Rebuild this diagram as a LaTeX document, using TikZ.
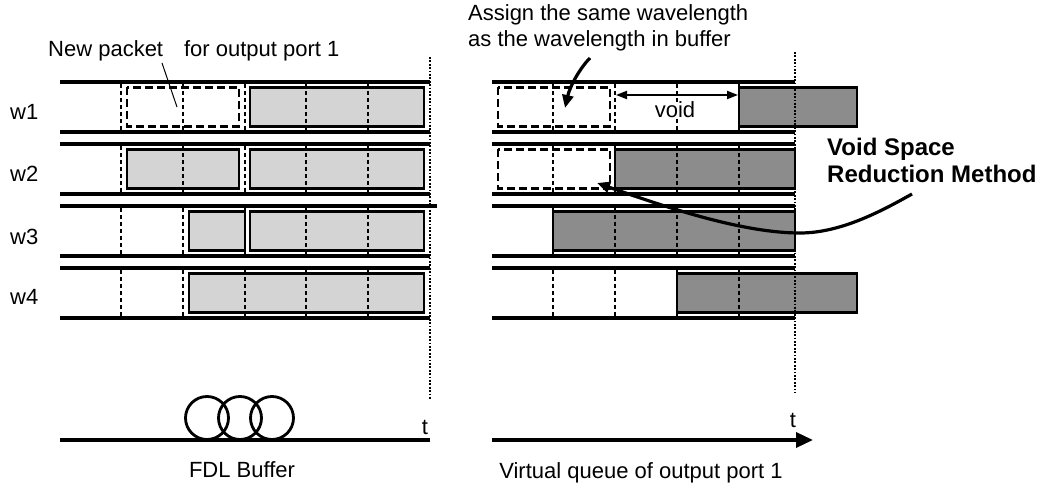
\documentclass[tikz,border=0pt]{standalone}
\usepackage{fontspec}
\setmainfont{Liberation Sans}
\usetikzlibrary{arrows.meta}
\def\packet[#1](#2)(#3:#4)% Syntax: [style] (lane top) (left x:right x)
{ \draw[#1] (#3,#2+5.5) rectangle (#4,#2+44.5); }
\tikzset{
	rail/.style={line width=3.4pt},
	slot/.style={line width=2pt, dash pattern=on 4pt off 3pt},
	tline/.style={line width=2pt, dash pattern=on 1.8pt off 1.6pt},
	fdlpkt/.style={draw, line width=2.8pt, fill=black!17},
	vqpkt/.style={draw, line width=2.8pt, fill=black!45},
	newpkt/.style={draw, line width=2.3pt, dash pattern=on 8pt off 4pt},
	lbl/.style={inner sep=0pt, font=\fontsize{22}{26}\selectfont},
	boldlbl/.style={inner sep=0pt, font=\fontsize{24}{28}\selectfont\bfseries},
	bend arrow/.style={line width=3.2pt, -{Triangle[length=13pt,width=11pt]}},
}
\begin{document}
\begin{tikzpicture}[x=1pt,y=-1pt]
	\useasboundingbox (0,0) rectangle (1052,486);
	% packets
	\packet[newpkt](82)(127:239)
	\packet[fdlpkt](82)(250:424)
	\packet[fdlpkt](144)(127:239)
	\packet[fdlpkt](144)(250:424)
	\packet[fdlpkt](206)(189:245)
	\packet[fdlpkt](206)(250:424)
	\packet[fdlpkt](268)(189:424)
	\packet[newpkt](82)(498:610)
	\packet[vqpkt](82)(739:857)
	\packet[newpkt](144)(498:610)
	\packet[vqpkt](144)(615:795)
	\packet[vqpkt](206)(553:795)
	\packet[vqpkt](268)(677:857)
	% wavelength lanes
	\foreach \lane/\top/\base in {1/82/120,2/144/182,3/206/245,4/268/305}{
		\draw[rail] (60,\top) -- (430,\top) (60,\top+50) -- (430,\top+50);
		\draw[rail] (492,\top) -- (795,\top) (492,\top+50) -- (795,\top+50);
		\foreach \x in {121,183,245,306,368,553,615,677,739}
			\draw[slot] (\x,\top+2) -- (\x,\top+48);
		\node[lbl, anchor=base west] (w\lane) at (10,\base) {w\lane};
	}
	\draw[rail] (430,206) -- (437,206);
	\draw[tline] (430,57) -- (430,400);
	\draw[tline] (795,52) -- (795,393);
	% labels
	\node[lbl, anchor=base west] (newlbl) at (48,57) {New packet\hspace{0.95em}for output port 1};
	\coordinate (newfrom) at (162,63);
	\coordinate (newto) at (177,107);
	\draw[line width=1pt] (newfrom) -- (newto);
	\node[lbl, anchor=base west] (assign1) at (468,21) {Assign the same wavelength};
	\node[lbl, anchor=base west] (assign2) at (468,47) {as the wavelength in buffer};
	\coordinate (asfrom) at (590,58);
	\coordinate (asto) at (565,108);
	\draw[bend arrow] (asfrom) .. controls (580,68) and (570,86) .. (asto);
	\coordinate (voidl) at (616,95);
	\coordinate (voidr) at (738,95);
	\draw[line width=2pt, {Triangle[length=11pt,width=8pt]}-{Triangle[length=11pt,width=8pt]}] (voidl) -- (voidr);
	\node[lbl, anchor=base, fill=white] (voidlbl) at (675,118) {void};
	\node[boldlbl, anchor=base west] (vsrm1) at (827,156) {Void Space};
	\node[boldlbl, anchor=base west] (vsrm2) at (827,183) {Reduction Method};
	\coordinate (vsfrom) at (912,194);
	\coordinate (vslow) at (800,233);
	\coordinate (vsto) at (597,183);
	\draw[bend arrow] (vsfrom) .. controls (880,212) and (840,233) .. (vslow)
		.. controls (740,233) and (660,205) .. (vsto);
	% time axes
	\draw[rail] (60,440) -- (430,440);
	\foreach \cx in {207,240,272}
		\draw[line width=2.8pt] (\cx,418) circle[radius=21.5pt];
	\node[lbl, anchor=base] (tfdl) at (425,434) {t};
	\node[lbl, anchor=base] (fdl) at (242,477) {FDL Buffer};
	\coordinate (vqstart) at (492,440);
	\coordinate (vqend) at (813,440);
	\draw[rail, -{Triangle[length=17pt,width=15pt]}] (vqstart) -- (vqend);
	\node[lbl, anchor=base] (tvq) at (793,427) {t};
	\node[lbl, anchor=base] (vq) at (641,478) {Virtual queue of output port 1};
\end{tikzpicture}
\end{document}
